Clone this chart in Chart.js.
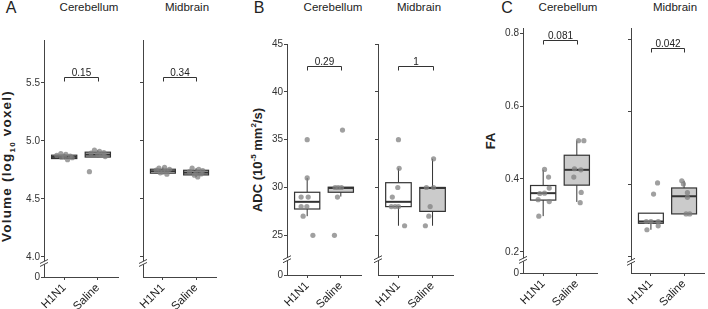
<!DOCTYPE html>
<html>
<head>
<meta charset="utf-8">
<script src="https://cdn.jsdelivr.net/npm/chart.js@4.4.1/dist/chart.umd.min.js"></script>
<style>
  body { margin: 0; width: 708px; height: 309px; overflow: hidden; position: relative; background: #fff;
         font-family: "Liberation Sans", Arial, Helvetica, sans-serif; color: #222; }
  .plot { position: absolute; }
  .txt { position: absolute; white-space: nowrap; line-height: 1; transform: translate(-50%, -50%); }
  .ttl { font-size: 11.5px; }
  .lbl { position: absolute; white-space: nowrap; line-height: 1; font-weight: bold; font-size: 13px;
         transform: translate(-50%, -50%) rotate(-90deg); }
  sup, sub { font-size: 8px; line-height: 0; }
</style>
</head>
<body>
<div class="txt" style="left:11px;top:8px;font-size:16px">A</div>
<div class="txt" style="left:259px;top:8px;font-size:16px">B</div>
<div class="txt" style="left:507px;top:8px;font-size:16px">C</div>

<div class="txt ttl" style="left:89px;top:8px">Cerebellum</div>
<div class="txt ttl" style="left:187px;top:8px">Midbrain</div>
<div class="txt ttl" style="left:333px;top:8px">Cerebellum</div>
<div class="txt ttl" style="left:419px;top:8px">Midbrain</div>
<div class="txt ttl" style="left:568px;top:8px">Cerebellum</div>
<div class="txt ttl" style="left:675px;top:8px">Midbrain</div>

<div class="lbl" style="left:7px;top:166px;font-size:13.5px;letter-spacing:1.2px">Volume (log<sub>10</sub> voxel)</div>
<div class="lbl" style="left:257px;top:160px">ADC (10<sup>-5</sup> mm<sup>2</sup>/s)</div>
<div class="lbl" style="left:490px;top:141px">FA</div>

<script>
const groups = ['H1N1', 'Saline'];

// A: volume (log10 voxel)
const volTicks = [4.0, 4.5, 5.0, 5.5];
const volP = ['0.15', '0.34'];
// box stats per group: [low whisker, q1, median, q3, high whisker]
const volCereBox = [[4.84, 4.848, 4.862, 4.877, 4.89], [4.86, 4.861, 4.882, 4.903, 4.92]];
const volMidBox = [[4.713, 4.722, 4.739, 4.756, 4.772], [4.69, 4.707, 4.727, 4.747, 4.765]];
const volCereH1N1 = [4.89, 4.885, 4.875, 4.87, 4.865, 4.86, 4.855, 4.838];
const volCereH1N1Jit = [-0.1, 0.05, -0.22, 0.18, 0.0, -0.08, 0.24, 0.1];
const volCereSaline = [4.92, 4.91, 4.9, 4.895, 4.885, 4.875, 4.865, 4.735];
const volCereSalineJit = [-0.1, 0.05, 0.18, -0.2, 0.0, 0.12, 0.22, -0.25];
const volMidH1N1 = [4.772, 4.765, 4.755, 4.748, 4.74, 4.733, 4.725, 4.713];
const volMidH1N1Jit = [0.05, -0.12, 0.2, -0.2, 0.1, 0.0, -0.08, 0.12];
const volMidSaline = [4.765, 4.755, 4.745, 4.735, 4.725, 4.715, 4.705, 4.69];
const volMidSalineJit = [-0.12, 0.08, 0.2, -0.2, 0.0, 0.15, -0.05, 0.05];

// B: ADC (10^-5 mm^2/s)
const adcTicks = [25, 30, 35, 40, 45];
const adcP = ['0.29', '1'];
const adcCereBox = [[27, 27.75, 28.5, 29.5, 31], [29.05, 29.5, 29.95, 30.03, 30.03]];
const adcMidBox = [[26, 28, 28.5, 30.5, 32], [26, 27.5, 29.95, 30, 33]];
const adcCereH1N1 = [35, 31, 29, 29, 28, 28, 27, 25];
const adcCereH1N1Jit = [0, 0, -0.18, 0.03, -0.18, -0.01, -0.12, 0.17];
const adcCereSaline = [36, 30, 30, 30, 29, 25];
const adcCereSalineJit = [0.05, -0.17, -0.08, 0.02, -0.1, -0.19];
const adcMidH1N1 = [35, 32, 30, 29, 28, 28, 28, 26];
const adcMidH1N1Jit = [0, 0.02, -0.02, -0.18, -0.21, -0.1, 0, 0.18];
const adcMidSaline = [33, 30, 30, 28, 27, 26];
const adcMidSalineJit = [0.03, -0.18, 0.03, -0.07, -0.11, -0.21];

// C: FA
const faTicks = [0.2, 0.4, 0.6, 0.8];
const faP = ['0.081', '0.042'];
const faCereBox = [[0.298, 0.342, 0.361, 0.382, 0.425], [0.337, 0.383, 0.425, 0.465, 0.505]];
const faMidBox = [[0.273, 0.291, 0.296, 0.319, 0.319], [0.317, 0.317, 0.366, 0.389, 0.409]];
const faCereH1N1 = [0.426, 0.405, 0.375, 0.361, 0.36, 0.343, 0.338, 0.298];
const faCereH1N1Jit = [0.04, 0.16, 0.18, 0.04, -0.1, -0.15, 0.18, -0.13];
const faCereSaline = [0.505, 0.505, 0.428, 0.425, 0.405, 0.363, 0.335];
const faCereSalineJit = [0.05, 0.21, -0.07, 0.12, -0.09, 0.13, 0.1];
const faMidH1N1 = [0.403, 0.372, 0.296, 0.296, 0.296, 0.284, 0.273];
const faMidH1N1Jit = [0.2, 0.08, -0.14, 0, 0.22, 0.22, -0.12];
const faMidSaline = [0.409, 0.4, 0.376, 0.363, 0.317, 0.317];
const faMidSalineJit = [-0.07, -0.02, 0.1, 0.1, 0.06, 0.17];

const FONT = '"Liberation Sans", Arial, Helvetica, sans-serif';
const W = 34, H = 40, T = 8, RP = 2;

function boxPlugin(spec) {
  return {
    id: 'boxes',
    beforeDatasetsDraw(chart) {
      const { ctx, scales: { x, y } } = chart;
      ctx.save();
      spec.box.forEach((s, i) => {
        const cx = x.getPixelForValue(i + 1);
        const hw = x.getPixelForValue(i + 1.375) - cx;
        const [lo, q1, md, q3, hi] = s.map(v => y.getPixelForValue(v));
        ctx.strokeStyle = '#333';
        ctx.lineWidth = 1;
        ctx.beginPath();
        ctx.moveTo(cx, lo); ctx.lineTo(cx, q1);
        ctx.moveTo(cx, q3); ctx.lineTo(cx, hi);
        ctx.stroke();
        ctx.fillStyle = i === 0 ? '#ffffff' : '#cbcbcb';
        ctx.fillRect(cx - hw, q3, hw * 2, q1 - q3);
        ctx.lineWidth = 1.2;
        ctx.strokeRect(cx - hw, q3, hw * 2, q1 - q3);
        ctx.lineWidth = 2;
        ctx.beginPath();
        ctx.moveTo(cx - hw, md); ctx.lineTo(cx + hw, md);
        ctx.stroke();
      });
      ctx.restore();
    },
    afterDraw(chart) {
      const { ctx, scales: { x, y } } = chart;
      ctx.save();
      // p-value bracket
      const x1 = Math.round(x.getPixelForValue(1)) + 0.5;
      const x2 = Math.round(x.getPixelForValue(2)) + 0.5;
      const by = Math.round(y.getPixelForValue(spec.pY)) + 0.5;
      ctx.strokeStyle = '#333';
      ctx.lineWidth = 1;
      ctx.beginPath();
      ctx.moveTo(x1, by + 4); ctx.lineTo(x1, by); ctx.lineTo(x2, by); ctx.lineTo(x2, by + 4);
      ctx.stroke();
      ctx.fillStyle = '#222';
      ctx.font = '10px ' + FONT;
      ctx.textAlign = 'center';
      ctx.textBaseline = 'alphabetic';
      ctx.fillText(spec.p, (x1 + x2) / 2, by - 2);
      // axis break
      const ax = chart.chartArea.left, ky = y.getPixelForValue(spec.brk);
      ctx.fillStyle = '#fff';
      ctx.beginPath();
      ctx.moveTo(ax - 4, ky + 0.5); ctx.lineTo(ax + 4, ky - 3.5);
      ctx.lineTo(ax + 4, ky - 0.5); ctx.lineTo(ax - 4, ky + 3.5);
      ctx.closePath();
      ctx.fill();
      ctx.strokeStyle = '#444';
      ctx.beginPath();
      ctx.moveTo(ax - 4, ky + 0.5); ctx.lineTo(ax + 4, ky - 3.5);
      ctx.moveTo(ax - 4, ky + 3.5); ctx.lineTo(ax + 4, ky - 0.5);
      ctx.stroke();
      ctx.restore();
    }
  };
}

function makePlot(geo, spec) {
  const div = document.createElement('div');
  div.className = 'plot';
  const left = geo.X - W, top = geo.Y - T;
  div.style.left = left + 'px';
  div.style.top = top + 'px';
  div.style.width = (geo.R - left + RP) + 'px';
  div.style.height = (geo.B + H - top) + 'px';
  const cv = document.createElement('canvas');
  div.appendChild(cv);
  document.body.appendChild(div);

  const yTicks = spec.labels ? [spec.yMin].concat(spec.ticks) : spec.ticks;

  new Chart(cv, {
    type: 'scatter',
    data: {
      datasets: spec.pts.map((p, g) => ({
        data: p[0].map((v, i) => ({ x: g + 1 + p[1][i], y: v })),
        pointRadius: 2.6,
        pointBackgroundColor: 'rgba(128,128,128,0.75)',
        pointBorderWidth: 0
      }))
    },
    options: {
      responsive: true,
      maintainAspectRatio: false,
      animation: false,
      layout: { padding: { left: 0, top: T, right: RP, bottom: 0 } },
      plugins: { legend: { display: false }, tooltip: { enabled: false } },
      scales: {
        x: {
          type: 'linear', min: 0.4, max: 2.6,
          afterBuildTicks: a => { a.ticks = [{ value: 1 }, { value: 2 }]; },
          afterFit: a => { a.height = H; a.paddingLeft = 0; a.paddingRight = 0; },
          border: { display: true, color: '#444', width: 1 },
          grid: { display: true, drawOnChartArea: false, drawTicks: true, tickLength: 3, color: '#444' },
          ticks: {
            minRotation: 45, maxRotation: 45, autoSkip: false, padding: 1,
            color: '#222', font: { family: FONT, size: 11.5 },
            callback: v => groups[Math.round(v) - 1]
          }
        },
        y: {
          type: 'linear', min: spec.yMin, max: spec.yMax,
          afterBuildTicks: a => { a.ticks = yTicks.map(v => ({ value: v })); },
          afterFit: a => { a.width = W; a.paddingTop = 0; a.paddingBottom = 0; },
          border: { display: true, color: '#444', width: 1 },
          grid: { display: true, drawOnChartArea: false, drawTicks: true, tickLength: 3, color: '#444' },
          ticks: {
            padding: 1, color: '#333', font: { family: FONT, size: 10 },
            callback: v => !spec.labels ? '' : (v === spec.yMin ? '0' : spec.fmt(v))
          }
        }
      }
    },
    plugins: [boxPlugin(spec)]
  });
}

const f1 = v => v.toFixed(1);
const f0 = v => String(v);

makePlot({ X: 44, Y: 40, R: 120, B: 277 }, {
  box: volCereBox, pts: [[volCereH1N1, volCereH1N1Jit], [volCereSaline, volCereSalineJit]],
  yMin: 3.827, yMax: 5.87, ticks: volTicks, fmt: f1, labels: true, p: volP[0], pY: 5.55, brk: 3.948
});
makePlot({ X: 143, Y: 40, R: 218, B: 277 }, {
  box: volMidBox, pts: [[volMidH1N1, volMidH1N1Jit], [volMidSaline, volMidSalineJit]],
  yMin: 3.827, yMax: 5.87, ticks: volTicks, fmt: f1, labels: false, p: volP[1], pY: 5.55, brk: 3.948
});
makePlot({ X: 287, Y: 44, R: 363, B: 275 }, {
  box: adcCereBox, pts: [[adcCereH1N1, adcCereH1N1Jit], [adcCereSaline, adcCereSalineJit]],
  yMin: 20.85, yMax: 45, ticks: adcTicks, fmt: f0, labels: true, p: adcP[0], pY: 42.75, brk: 22.5
});
makePlot({ X: 378, Y: 44, R: 455, B: 275 }, {
  box: adcMidBox, pts: [[adcMidH1N1, adcMidH1N1Jit], [adcMidSaline, adcMidSalineJit]],
  yMin: 20.85, yMax: 45, ticks: adcTicks, fmt: f0, labels: false, p: adcP[1], pY: 42.75, brk: 22.5
});
makePlot({ X: 523, Y: 28, R: 599, B: 273 }, {
  box: faCereBox, pts: [[faCereH1N1, faCereH1N1Jit], [faCereSaline, faCereSalineJit]],
  yMin: 0.142, yMax: 0.814, ticks: faTicks, fmt: f1, labels: true, p: faP[0], pY: 0.781, brk: 0.178
});
makePlot({ X: 631, Y: 28, R: 706, B: 273 }, {
  box: faMidBox, pts: [[faMidH1N1, faMidH1N1Jit], [faMidSaline, faMidSalineJit]],
  yMin: 0.153, yMax: 0.833, ticks: faTicks, fmt: f1, labels: false, p: faP[1], pY: 0.778, brk: 0.184
});
</script>
</body>
</html>
